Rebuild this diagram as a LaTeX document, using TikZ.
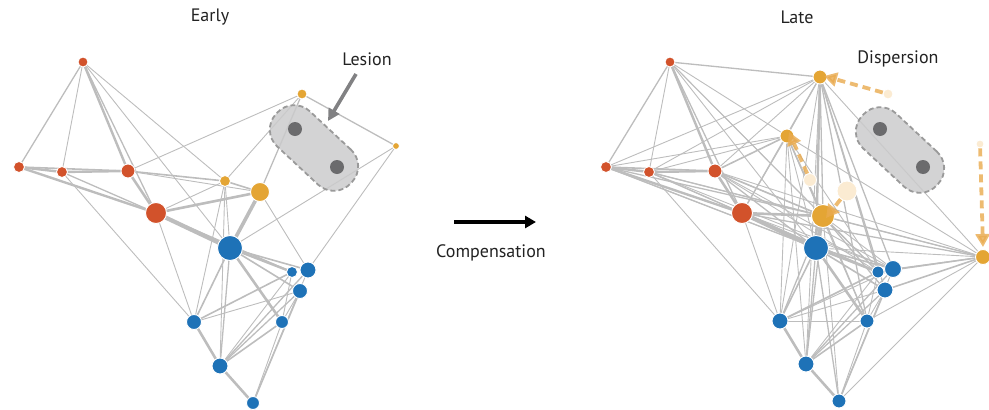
\documentclass[tikz,border=0pt]{standalone}
\usepackage{fontspec}
\setmainfont{PT Sans}
\usetikzlibrary{arrows.meta}
\definecolor{cR}{HTML}{D2522B}
\definecolor{cY}{HTML}{E4A534}
\definecolor{cB}{HTML}{1E72B7}
\definecolor{cE}{HTML}{BDBDBD}
\definecolor{cL}{HTML}{CBCBCC}
\definecolor{cLb}{HTML}{9A9A9A}
\definecolor{cD}{HTML}{6B6B6D}
\definecolor{cG}{HTML}{FBEBD2}
\definecolor{cA}{HTML}{E9AA4E}
\definecolor{cT}{HTML}{222222}
\begin{document}
\begin{tikzpicture}[x=1pt,y=-1pt,
  nd/.style={circle,draw=white,line width=0.9pt,inner sep=0pt,minimum size=#1},
  rn/.style={nd=#1,fill=cR},
  yn/.style={nd=#1,fill=cY},
  bn/.style={nd=#1,fill=cB},
  gn/.style={nd=#1,fill=cG},
  dn/.style={circle,fill=cD,inner sep=0pt,minimum size=#1},
  edge/.style={draw=cE,line cap=round},
  lesion/.style={rectangle,rounded corners=23pt,minimum width=102pt,minimum height=48pt,
    fill=cL,fill opacity=0.85,draw=cLb,line width=1.8pt,dash pattern=on 5pt off 3pt,rotate=-43},
  disp/.style={draw=cA,opacity=0.8,line width=3.8pt,dash pattern=on 8pt off 5pt,
    -{Triangle[length=13pt,width=14pt]}},
  lbl/.style={text=cT,font=\fontsize{18}{21}\selectfont}]
\useasboundingbox (0,0) rectangle (989,410);

% ---------- titles ----------
\node[lbl] (tEarly) at (210,17) {Early};
\node[lbl] (tLate) at (797,17) {Late};

% ---------- left nodes (coordinates) ----------
\coordinate (lR1) at (83,62);   \coordinate (lR2) at (19,167);
\coordinate (lR3) at (62,172);  \coordinate (lR4) at (128,171);
\coordinate (lR5) at (156,213);
\coordinate (lY1) at (302,94);  \coordinate (lY2) at (396,146);
\coordinate (lY3) at (225,181); \coordinate (lY4) at (260,192);
\coordinate (lB1) at (230,248); \coordinate (lB2) at (292,272);
\coordinate (lB3) at (308,270); \coordinate (lB4) at (300,291);
\coordinate (lB5) at (194,322); \coordinate (lB6) at (282,322);
\coordinate (lB7) at (220,366); \coordinate (lB8) at (253,403);

% ---------- right nodes (coordinates) ----------
\coordinate (rR1) at (670,62);  \coordinate (rR2) at (606,167);
\coordinate (rR3) at (649,172); \coordinate (rR4) at (715,171);
\coordinate (rR5) at (742,213);
\coordinate (rY1) at (820,77);  \coordinate (rY2) at (983,257);
\coordinate (rY3) at (787,136); \coordinate (rY4) at (823,216);
\coordinate (rB1) at (816,248); \coordinate (rB2) at (878,272);
\coordinate (rB3) at (893,269); \coordinate (rB4) at (885,290);
\coordinate (rB5) at (780,321); \coordinate (rB6) at (867,321);
\coordinate (rB7) at (806,364); \coordinate (rB8) at (839,401);

% ---------- shared edges ----------
\foreach \p in {l,r}{
  \foreach \a/\b/\w in {R1/R2/1.3, R1/R3/0.9, R1/R4/2.4, R1/R5/1.3, R1/Y3/0.9, R1/B1/0.9,
    R2/R3/2.4, R2/R4/1.6, R2/R5/2.4, R3/R4/2.4, R3/R5/1.3, R3/B5/0.9,
    R4/R5/2.6, R4/Y1/0.9, R4/Y3/1.6, R4/Y4/0.9,
    R5/Y3/0.9, R5/Y4/2.6, R5/B1/4.2, R5/B5/0.9, R5/B2/1.3,
    Y1/Y3/0.9, Y1/Y4/1.3, Y2/B3/0.9, Y2/B1/0.9,
    Y3/Y4/1.6, Y3/B1/0.9, Y3/B5/0.9, Y3/B7/0.9,
    Y4/B1/3.6, Y4/B3/0.9,
    B1/B2/2.4, B1/B3/1.6, B1/B4/1.6, B1/B5/1.6, B1/B6/2.6, B1/B7/1.3,
    B5/B7/2.6, B5/B2/1.6, B5/B4/0.9,
    B7/B8/2.6, B7/B2/0.9, B7/B3/1.3, B7/B4/1.3, B7/B6/1.6,
    B8/B4/1.6, B8/B6/0.9, B8/B3/0.9, B6/B4/0.9, B6/B2/0.9}
  {\draw[edge,line width=\w pt] (\p\a) -- (\p\b);}
}
\draw[edge,line width=1.3pt] (lY1) -- (lY2);

% ---------- extra right edges ----------
\foreach \a/\b/\w in {R1/Y1/1.3, R1/Y4/0.9, R1/B2/0.9,
  Y1/R2/0.9, Y1/R3/0.9, Y1/R5/1.3, Y1/B1/2.4, Y1/B2/1.3, Y1/B3/1.3,
  Y1/B4/1.3, Y1/B5/0.9, Y1/B6/1.3, Y1/B7/0.9, Y1/Y2/0.9,
  Y2/Y3/0.9, Y2/Y4/1.3, Y2/B2/1.6, Y2/B4/1.6, Y2/B6/0.9, Y2/B8/0.9,
  Y2/R5/1.3, Y2/R4/0.9, Y2/R3/0.9,
  Y3/R2/0.9, Y3/R3/0.9, Y3/B2/0.9, Y3/B6/0.9,
  Y4/R2/1.3, Y4/R3/1.3, Y4/R4/1.6, Y4/B2/1.3, Y4/B4/1.3, Y4/B5/1.3,
  Y4/B6/1.3, Y4/B7/1.3, Y4/B8/0.9,
  R4/B1/1.3, R4/B2/0.9, R2/B1/1.3, R3/B2/0.9, R5/B3/0.9, B5/B3/0.9,
  B1/B8/1.3, B5/B6/0.9, R2/B2/0.9, R3/B3/0.9, R4/B3/0.9}
  {\draw[edge,line width=\w pt] (r\a) -- (r\b);}

% ---------- lesions ----------
\node[lesion] (lesL) at (314,148) {};
\node[dn=14pt] (lD1) at (295,129) {};
\node[dn=14pt] (lD2) at (337,167) {};
\node[lesion] (lesR) at (900,150) {};
\node[dn=14pt] (rD1) at (880,129) {};
\node[dn=14pt] (rD2) at (923,167) {};

% ---------- node discs ----------
\node[rn=10pt] (nlR1) at (lR1) {};  \node[rn=11pt] (nlR2) at (lR2) {};
\node[rn=11pt] (nlR3) at (lR3) {};  \node[rn=14pt] (nlR4) at (lR4) {};
\node[rn=21pt] (nlR5) at (lR5) {};
\node[yn=10pt] (nlY1) at (lY1) {};  \node[yn=7pt] (nlY2) at (lY2) {};
\node[yn=11pt] (nlY3) at (lY3) {};  \node[yn=19pt] (nlY4) at (lY4) {};
\node[bn=25pt] (nlB1) at (lB1) {};  \node[bn=11pt] (nlB2) at (lB2) {};
\node[bn=16pt] (nlB3) at (lB3) {};  \node[bn=15pt] (nlB4) at (lB4) {};
\node[bn=15pt] (nlB5) at (lB5) {};  \node[bn=13pt] (nlB6) at (lB6) {};
\node[bn=16pt] (nlB7) at (lB7) {};  \node[bn=13pt] (nlB8) at (lB8) {};

\node[rn=10pt] (nrR1) at (rR1) {};  \node[rn=11pt] (nrR2) at (rR2) {};
\node[rn=11pt] (nrR3) at (rR3) {};  \node[rn=14pt] (nrR4) at (rR4) {};
\node[rn=21pt] (nrR5) at (rR5) {};
\node[yn=14pt] (nrY1) at (rY1) {};  \node[yn=15pt] (nrY2) at (rY2) {};
\node[yn=14pt] (nrY3) at (rY3) {};  \node[yn=23pt] (nrY4) at (rY4) {};
\node[bn=25pt] (nrB1) at (rB1) {};  \node[bn=12pt] (nrB2) at (rB2) {};
\node[bn=17pt] (nrB3) at (rB3) {};  \node[bn=16pt] (nrB4) at (rB4) {};
\node[bn=16pt] (nrB5) at (rB5) {};  \node[bn=14pt] (nrB6) at (rB6) {};
\node[bn=16pt] (nrB7) at (rB7) {};  \node[bn=14pt] (nrB8) at (rB8) {};

% ---------- ghost (former) positions ----------
\node[gn=10pt] (g1) at (888,94) {};
\node[gn=8pt]  (g2) at (980,144) {};
\node[gn=13pt] (g3) at (810,180) {};
\node[gn=20pt] (g4) at (847,191) {};

% ---------- dispersion arrows ----------
\draw[disp] (g1) -- ([xshift=4pt,yshift=1pt]nrY1.center);
\draw[disp] (g2) -- ([yshift=2pt]nrY2.north);
\draw[disp] (g3) -- ([xshift=2pt,yshift=4pt]nrY3.center);
\draw[disp] (g4) -- ([xshift=3pt,yshift=-2pt]nrY4.center);

% ---------- labels and arrows ----------
\node[lbl] (tLesion) at (367,59) {Lesion};
\coordinate (lesA) at (356,74);
\coordinate (lesB) at (328,121);
\draw[draw=cD!85,line width=3.6pt,-{Triangle[length=12pt,width=12pt]}] (lesA) -- (lesB);

\node[lbl] (tDisp) at (898,59) {Dispersion};

\coordinate (compA) at (454,222);
\coordinate (compB) at (536,222);
\draw[black,line width=3.2pt,-{Triangle[length=11pt,width=12pt]}] (compA) -- (compB);
\node[lbl] (tComp) at (491,253) {Compensation};
\end{tikzpicture}
\end{document}
